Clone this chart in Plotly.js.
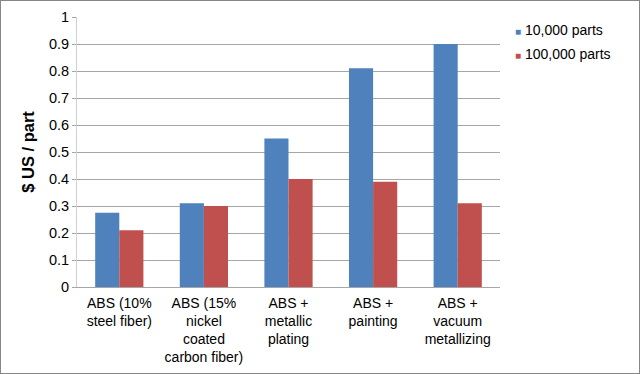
<!DOCTYPE html>
<html>
<head>
<meta charset="utf-8">
<script src="https://cdn.plot.ly/plotly-3.0.1.min.js"></script>
<style>
html,body{margin:0;padding:0;background:#fff;}
#chart{width:638px;height:372px;border:1px solid #868686;}
</style>
</head>
<body>
<div id="chart"></div>
<script>
const categories = [
  "ABS (10%<br>steel fiber)",
  "ABS (15%<br>nickel<br>coated<br>carbon fiber)",
  "ABS +<br>metallic<br>plating",
  "ABS +<br>painting",
  "ABS +<br>vacuum<br>metallizing"
];
const seriesNames = ["10,000 parts", "100,000 parts"];
const seriesColors = ["#4f81bd", "#c0504d"];
const parts10k = [0.275, 0.31, 0.55, 0.81, 0.90];
const parts100k = [0.21, 0.30, 0.40, 0.39, 0.31];
const yTicks = [0, 0.1, 0.2, 0.3, 0.4, 0.5, 0.6, 0.7, 0.8, 0.9, 1];
const yTickText = ["0", "0.1", "0.2", "0.3", "0.4", "0.5", "0.6", "0.7", "0.8", "0.9", "1"];

const font = "Liberation Sans, Arial, sans-serif";
const data = [
  {type: "bar", name: seriesNames[0], x: categories, y: parts10k,
   marker: {color: seriesColors[0], line: {width: 0}}},
  {type: "bar", name: seriesNames[1], x: categories, y: parts100k,
   marker: {color: seriesColors[1], line: {width: 0}}}
];
const legendAnnotations = seriesNames.map((n, i) => ({
  xref: "paper", yref: "paper", x: 1.03, y: 0.952 - 0.089 * i,
  xanchor: "left", yanchor: "middle", showarrow: false, align: "left",
  text: "<span style='color:" + seriesColors[i] + ";font-size:10px'>■</span> " + n,
  font: {family: font, size: 14, color: "#000"}
}));
const layout = {
  width: 638, height: 372,
  margin: {l: 76, r: 139, t: 16, b: 86, pad: 0},
  paper_bgcolor: "#fff", plot_bgcolor: "#fff",
  font: {family: font, size: 14, color: "#000"},
  barmode: "group", bargap: 0.43, bargroupgap: 0,
  showlegend: false,
  annotations: legendAnnotations,
  xaxis: {type: "category", showgrid: false, showline: true, linecolor: "#a6a6a6", linewidth: 1,
    ticks: "", tickfont: {family: font, size: 14}, ticklabelstandoff: 3, automargin: false, fixedrange: true},
  yaxis: {range: [0, 1], tickvals: yTicks, ticktext: yTickText, showgrid: true,
    gridcolor: "#a6a6a6", gridwidth: 1, showline: true, linecolor: "#d0d0d0", linewidth: 1,
    ticks: "outside", ticklen: 4, tickcolor: "#a6a6a6", zeroline: false,
    tickfont: {family: font, size: 14.5},
    title: {text: "<b>$ US / part</b>", font: {family: font, size: 16.5}, standoff: 10},
    automargin: false, fixedrange: true}
};
Plotly.newPlot("chart", data, layout, {displayModeBar: false, staticPlot: true});
</script>
</body>
</html>
